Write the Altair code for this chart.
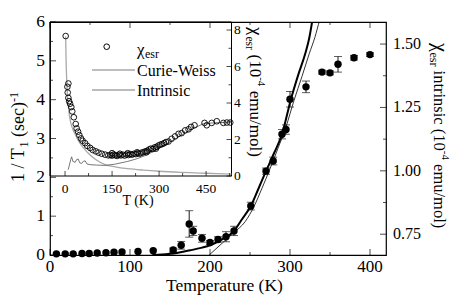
import altair as alt
import pandas as pd

FONT = "Liberation Serif, Times New Roman, serif"
W, H = 336, 233          # main plot area
IW, IH = 181.5, 154      # inset plot area (top-left corner shared with main)

# ---------------- main panel: 1/T1 data ----------------
main_T = [8, 19, 29, 40, 49, 59, 70, 80, 90, 110, 129, 154, 164, 174, 179, 190, 200, 210,
          220, 230, 251, 270, 279, 290, 295, 300, 320, 340, 350, 360, 380, 400]
main_v = [0.03, 0.03, 0.03, 0.04, 0.04, 0.05, 0.06, 0.07, 0.08, 0.09, 0.11, 0.13, 0.25, 0.8,
          0.62, 0.43, 0.32, 0.4, 0.47, 0.62, 1.26, 2.16, 2.42, 3.11, 3.23, 4.01, 4.33, 4.71,
          4.69, 4.91, 5.08, 5.16]
main_err = [0, 0, 0, 0, 0, 0, 0, 0, 0, 0, 0, 0.05, 0.1, 0.34, 0.12, 0.1, 0.05, 0.07, 0.13,
            0.12, 0.1, 0.08, 0.1, 0.12, 0.12, 0.2, 0.15, 0.05, 0.05, 0.2, 0.06, 0.05]

# thick fit curve (1/T1)
fit_T = [128, 140, 150, 160, 175, 190, 200, 215, 230, 240, 251, 260, 270, 280, 290, 301,
         310, 319, 324, 328]
fit_v = [0, 0.01, 0.03, 0.06, 0.12, 0.19, 0.25, 0.4, 0.62, 0.92, 1.26, 1.68, 2.16, 2.62,
         3.11, 4.0, 4.62, 5.18, 5.58, 6.05]
# thin curve (chi_esr intrinsic, right axis)
chi_T = [199, 215, 230, 244, 255, 265, 275, 285, 295, 305, 315, 324, 331, 337]
chi_v = [0, 0.3, 0.58, 0.86, 1.25, 1.72, 2.22, 2.75, 3.3, 3.98, 4.6, 5.18, 5.6, 6.05]

x_major = [0, 100, 200, 300, 400]
x_minor = [50, 150, 250, 350]
y_major = [0, 1, 2, 3, 4, 5, 6]
y_minor = [0.5, 1.5, 2.5, 3.5, 4.5, 5.5]
r_major = [0.75, 1.0, 1.25, 1.5]
r_minor = [0.875, 1.125, 1.375]

# ---------------- inset: chi_esr vs T ----------------
ins_T = [2, 7.5, 8.5, 10.6, 10.6, 13, 16, 20, 23, 28, 34, 37, 41.5, 45.6, 51, 56, 64, 71, 80,
         88, 98, 107, 117, 128, 138, 145, 150, 150, 155, 160, 166, 172, 175, 178, 184, 190,
         196, 200, 202, 208, 214, 220, 226, 230, 232, 238, 244, 250, 256, 260, 262, 268, 274,
         280, 286, 290, 292, 298, 304, 310, 316, 322, 330, 340, 351, 362, 372, 383, 394, 402,
         413, 445, 452, 468, 484, 505, 516, 527]
ins_v = [7.67, 4.89, 4.57, 5.07, 4.28, 4.1, 3.96, 3.78, 3.54, 3.22, 2.85, 2.61, 2.43, 2.24,
         2.06, 1.93, 1.8, 1.65, 1.54, 1.43, 1.35, 1.28, 1.22, 1.17, 1.13, 1.15, 1.12, 1.25,
         1.18, 1.14, 1.1, 1.16, 1.22, 1.13, 1.17, 1.12, 1.18, 1.25, 1.15, 1.2, 1.17, 1.22, 1.2,
         1.3, 1.25, 1.22, 1.28, 1.3, 1.35, 1.3, 1.38, 1.45, 1.5, 1.48, 1.57, 1.5, 1.6, 1.67,
         1.72, 1.75, 1.8, 1.86, 1.89, 2.04, 2.17, 2.31, 2.35, 2.5, 2.56, 2.69, 2.78, 2.91,
         2.78, 2.91, 3.0, 2.91, 2.93, 2.93]
cw_T = [2, 3, 4, 5.5, 8, 12, 16, 20, 25, 32, 42, 58, 80, 100, 128, 160, 200, 250, 300, 350,
        400, 450, 531]
cw_v = [7.65, 6.6, 5.9, 5.2, 4.3, 3.6, 3.1, 2.8, 2.55, 2.3, 1.95, 1.55, 1.15, 0.88, 0.62,
        0.5, 0.4, 0.32, 0.26, 0.22, 0.18, 0.15, 0.1]
int_T = [10, 14, 18, 21, 25, 29, 32, 37, 42, 47, 53, 58, 64, 70, 80, 100, 128, 160, 200, 230,
         260, 290, 320, 350, 380, 410, 441, 480, 531]
int_v = [0.35, 0.6, 0.9, 1.05, 0.8, 0.78, 0.74, 0.9, 0.93, 0.72, 0.69, 0.8, 0.83, 0.66, 0.62,
         0.6, 0.58, 0.65, 0.8, 0.95, 1.15, 1.42, 1.72, 2.02, 2.32, 2.62, 2.86, 2.92, 2.95]
ix_major = [0, 150, 300, 450]
ix_minor = [75, 225, 375, 525]
iy_major = [0, 2, 4, 6, 8]
iy_minor = [1, 3, 5, 7]

# ---------------- helpers ----------------
one = pd.DataFrame({"a": [0]})


def tdf(vals):
    return pd.DataFrame({"t": vals})


xs = alt.Scale(domain=[0, 420], nice=False, zero=False)
ys = alt.Scale(domain=[0, 6], nice=False, zero=False)
rs = alt.Scale(domain=[0.668, 1.587], nice=False, zero=False)
xi = alt.Scale(domain=[-48, 531], range=[0, IW], nice=False, zero=False)
yi = alt.Scale(domain=[0, 8.44], range=[IH, 0], nice=False, zero=False)


def xtick(vals, scale, length, ypos):
    return alt.Chart(tdf(vals)).mark_tick(orient="vertical", size=length, thickness=1,
                                          color="black").encode(
        x=alt.X("t:Q", scale=scale, axis=None), y=alt.value(ypos))


def ytick(vals, scale, length, xpos):
    return alt.Chart(tdf(vals)).mark_tick(orient="horizontal", size=length, thickness=1,
                                          color="black").encode(
        y=alt.Y("t:Q", scale=scale, axis=None), x=alt.value(xpos))


def xlab(vals, scale, ypos, size):
    return alt.Chart(tdf(vals)).mark_text(font=FONT, fontSize=size, align="center",
                                          baseline="alphabetic", color="black").encode(
        x=alt.X("t:Q", scale=scale, axis=None), y=alt.value(ypos), text=alt.Text("t:Q"))


def ylab(vals, scale, xpos, size, align, fmt=""):
    return alt.Chart(tdf(vals)).mark_text(font=FONT, fontSize=size, align=align,
                                          baseline="middle", color="black").encode(
        y=alt.Y("t:Q", scale=scale, axis=None), x=alt.value(xpos),
        text=alt.Text("t:Q", format=fmt))


def txt(s, x, y, size, angle=0, align="left", baseline="alphabetic"):
    return alt.Chart(one).mark_text(text=s, font=FONT, fontSize=size, angle=angle, align=align,
                                    baseline=baseline, color="black").encode(
        x=alt.value(x), y=alt.value(y))


# ---------------- main layer ----------------
main_df = pd.DataFrame({"T": main_T, "v": main_v, "err": main_err})
err_df = main_df[main_df["err"] > 0].copy()
err_df["lo"] = err_df["v"] - err_df["err"]
err_df["hi"] = err_df["v"] + err_df["err"]

fit_line = alt.Chart(pd.DataFrame({"T": fit_T, "v": fit_v})).mark_line(
    color="black", strokeWidth=2, interpolate="monotone", clip=True).encode(
    x=alt.X("T:Q", scale=xs, axis=None), y=alt.Y("v:Q", scale=ys, axis=None))
chi_line = alt.Chart(pd.DataFrame({"T": chi_T, "v": chi_v})).mark_line(
    color="black", strokeWidth=0.8, interpolate="monotone", clip=True).encode(
    x=alt.X("T:Q", scale=xs, axis=None), y=alt.Y("v:Q", scale=ys, axis=None))

bars = alt.Chart(err_df).mark_rule(color="black", strokeWidth=0.9).encode(
    x=alt.X("T:Q", scale=xs, axis=None), y=alt.Y("lo:Q", scale=ys, axis=None), y2="hi:Q")
cap_lo = alt.Chart(err_df).mark_tick(orient="horizontal", size=8, thickness=0.9,
                                     color="black").encode(
    x=alt.X("T:Q", scale=xs, axis=None), y=alt.Y("lo:Q", scale=ys, axis=None))
cap_hi = alt.Chart(err_df).mark_tick(orient="horizontal", size=8, thickness=0.9,
                                     color="black").encode(
    x=alt.X("T:Q", scale=xs, axis=None), y=alt.Y("hi:Q", scale=ys, axis=None))
pts = alt.Chart(main_df).mark_circle(size=55, color="black", opacity=1).encode(
    x=alt.X("T:Q", scale=xs, axis=None), y=alt.Y("v:Q", scale=ys, axis=None))

main = alt.layer(
    fit_line, chi_line, bars, cap_lo, cap_hi, pts,
    xtick(x_major, xs, 6, H - 3), xtick(x_minor, xs, 3, H - 1.5),
    xtick(x_major, xs, 6, 3), xtick(x_minor, xs, 3, 1.5),
    ytick(y_major, ys, 6, 3), ytick(y_minor, ys, 3, 1.5),
    xlab(x_major, xs, H + 17.2, 17),
    ylab(y_major, ys, -5, 17.5, "right"),
)

# ---------------- right axis layer ----------------
right = alt.layer(
    ytick(r_major, rs, 6, W - 3),
    ytick(r_minor, rs, 3, W - 1.5),
    ylab(r_major, rs, W + 7, 16, "left", ".2f"),
)

# ---------------- inset layer ----------------
frame = alt.Chart(one).mark_rect(fillOpacity=0, stroke="black", strokeWidth=1).encode(
    x=alt.value(0), x2=alt.value(IW), y=alt.value(0), y2=alt.value(IH))
cw_line = alt.Chart(pd.DataFrame({"T": cw_T, "v": cw_v})).mark_line(
    color="#a9a9a9", strokeWidth=1.3, interpolate="monotone").encode(
    x=alt.X("T:Q", scale=xi, axis=None), y=alt.Y("v:Q", scale=yi, axis=None))
int_line = alt.Chart(pd.DataFrame({"T": int_T, "v": int_v})).mark_line(
    color="#555555", strokeWidth=0.8).encode(
    x=alt.X("T:Q", scale=xi, axis=None), y=alt.Y("v:Q", scale=yi, axis=None))
ins_pts = alt.Chart(pd.DataFrame({"T": ins_T, "v": ins_v})).mark_point(
    shape="circle", filled=False, size=32, color="black", strokeWidth=0.9, opacity=1).encode(
    x=alt.X("T:Q", scale=xi, axis=None), y=alt.Y("v:Q", scale=yi, axis=None))

inset = alt.layer(
    frame, cw_line, int_line, ins_pts,
    xtick(ix_major, xi, 5, IH - 2.5), xtick(ix_minor, xi, 3, IH - 1.5),
    ytick(iy_major, yi, 5, IW - 2.5), ytick(iy_minor, yi, 3, IW - 1.5),
    xlab(ix_major, xi, IH + 17, 13.5),
    ylab(iy_major, yi, IW + 2.5, 13.5, "left"),
)

# ---------------- legend + titles ----------------
leg_pt = alt.Chart(one).mark_point(shape="circle", filled=False, size=32, color="black",
                                   strokeWidth=1, opacity=1).encode(
    x=alt.value(56.7), y=alt.value(24.7))
leg_cw = alt.Chart(one).mark_rule(color="#a9a9a9", strokeWidth=1.3).encode(
    x=alt.value(42), x2=alt.value(85), y=alt.value(48))
leg_in = alt.Chart(one).mark_rule(color="#555555", strokeWidth=0.8).encode(
    x=alt.value(42), x2=alt.value(85), y=alt.value(68))

annot = alt.layer(
    leg_pt, leg_cw, leg_in,
    txt("χ", 87, 32.5, 17), txt("esr", 95, 36, 12),
    txt("Curie-Weiss", 87, 53.5, 16), txt("Intrinsic", 87, 73.5, 16),
    # inset axis titles
    txt("T (K)", 88, 182.5, 14, align="center"),
    txt("χ", 200, 5, 19, angle=90), txt("esr", 196, 14.5, 11.5, angle=90),
    txt("(10", 200, 32.5, 17, angle=90), txt("-4", 208, 55.2, 11, angle=90),
    txt("emu/mol)", 200, 68.7, 17, angle=90),
    # main x title
    txt("Temperature (K)", 174.5, 269, 17.5, align="center"),
    # main left title
    txt("1 / T", -26, 160, 18, angle=270), txt("1", -22, 125.5, 12, angle=270),
    txt("(sec)", -26, 115, 18, angle=270), txt("-1", -32, 80, 12, angle=270),
    # main right title
    txt("χ", 384, 21, 20, angle=90), txt("esr", 380, 30.5, 12, angle=90),
    txt("intrinsic (10", 384, 48.6, 16.5, angle=90), txt("-4", 392, 128.8, 11, angle=90),
    txt("emu/mol)", 384, 142.1, 16.5, angle=90),
)

chart = alt.layer(main, right, inset, annot).resolve_scale(
    x="independent", y="independent"
).properties(
    width=W, height=H, background="white",
    padding={"left": 42, "top": 14, "right": 69, "bottom": 40},
    autosize=alt.AutoSizeParams(type="none"),
).configure_view(stroke="black", strokeWidth=1.2)

chart.save("out.html", embed_options={"renderer": "svg", "actions": False})
